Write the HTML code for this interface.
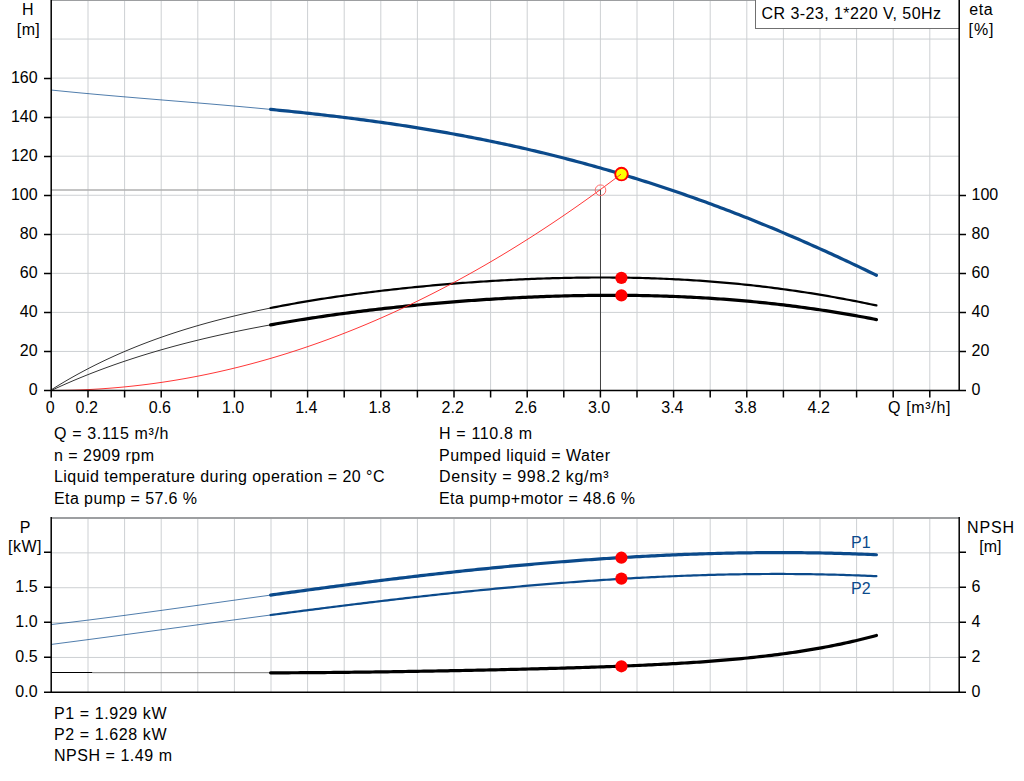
<!DOCTYPE html><html><head><meta charset="utf-8"><style>html,body{margin:0;padding:0;background:#fff;width:1024px;height:781px;overflow:hidden}svg{display:block}</style></head><body>
<svg width="1024" height="781" viewBox="0 0 1024 781" font-family="Liberation Sans, sans-serif" font-size="16" fill="#000">
<path d="M88.00,0 V390 M124.60,0 V390 M161.20,0 V390 M197.80,0 V390 M234.40,0 V390 M271.00,0 V390 M307.60,0 V390 M344.20,0 V390 M380.80,0 V390 M417.40,0 V390 M454.00,0 V390 M490.60,0 V390 M527.20,0 V390 M563.80,0 V390 M600.40,0 V390 M637.00,0 V390 M673.60,0 V390 M710.20,0 V390 M746.80,0 V390 M783.40,0 V390 M820.00,0 V390 M856.60,0 V390 M893.20,0 V390 M929.80,0 V390 M51,351.45 H959 M51,312.40 H959 M51,273.35 H959 M51,234.30 H959 M51,195.25 H959 M51,156.20 H959 M51,117.15 H959 M51,78.10 H959 M51,39.05 H959 " stroke="#cdd0d3" stroke-width="1" fill="none"/>
<path d="M88.00,517 V692 M124.60,517 V692 M161.20,517 V692 M197.80,517 V692 M234.40,517 V692 M271.00,517 V692 M307.60,517 V692 M344.20,517 V692 M380.80,517 V692 M417.40,517 V692 M454.00,517 V692 M490.60,517 V692 M527.20,517 V692 M563.80,517 V692 M600.40,517 V692 M637.00,517 V692 M673.60,517 V692 M710.20,517 V692 M746.80,517 V692 M783.40,517 V692 M820.00,517 V692 M856.60,517 V692 M893.20,517 V692 M929.80,517 V692 M51,657.44 H959 M51,622.58 H959 M51,587.72 H959 M51,552.86 H959 " stroke="#cdd0d3" stroke-width="1" fill="none"/>
<path d="M51,0.5 H959" stroke="#9d9fa1" stroke-width="1"/>
<path d="M51,518 H959" stroke="#9d9fa1" stroke-width="2"/>
<rect x="755.5" y="-1" width="204" height="29.5" fill="#fff" stroke="#707070" stroke-width="1"/>
<text x="761.5" y="19" textLength="179.5" lengthAdjust="spacing">CR 3-23, 1*220 V, 50Hz</text>
<path d="M51,190 H600" stroke="#b0b0b0" stroke-width="1.6"/>
<path d="M600.5,190 V390" stroke="#444" stroke-width="1"/>
<path d="M51.00,90.01 L54.00,90.32 L57.00,90.63 L60.00,90.93 L63.00,91.23 L66.00,91.53 L69.00,91.82 L72.00,92.12 L75.00,92.40 L78.00,92.69 L81.00,92.97 L84.00,93.26 L87.00,93.53 L90.00,93.81 L93.00,94.08 L96.00,94.36 L99.00,94.63 L102.00,94.89 L105.00,95.16 L108.00,95.42 L111.00,95.69 L114.00,95.95 L117.00,96.21 L120.00,96.46 L123.00,96.72 L126.00,96.98 L129.00,97.23 L132.00,97.48 L135.00,97.73 L138.00,97.99 L141.00,98.24 L144.00,98.48 L147.00,98.73 L150.00,98.98 L153.00,99.23 L156.00,99.48 L159.00,99.72 L162.00,99.97 L165.00,100.22 L168.00,100.46 L171.00,100.71 L174.00,100.96 L177.00,101.20 L180.00,101.45 L183.00,101.70 L186.00,101.95 L189.00,102.19 L192.00,102.44 L195.00,102.69 L198.00,102.94 L201.00,103.19 L204.00,103.45 L207.00,103.70 L210.00,103.95 L213.00,104.21 L216.00,104.46 L219.00,104.72 L222.00,104.98 L225.00,105.24 L228.00,105.50 L231.00,105.76 L234.00,106.03 L237.00,106.30 L240.00,106.56 L243.00,106.83 L246.00,107.11 L249.00,107.38 L252.00,107.66 L255.00,107.93 L258.00,108.21 L261.00,108.50 L264.00,108.78 L267.00,109.07 L270.00,109.36 L270.60,109.41" stroke="#0b4a8b" stroke-width="0.9" stroke-opacity="0.8" fill="none"/>
<path d="M270.60,109.41 L273.60,109.71 L276.60,110.00 L279.60,110.30 L282.60,110.60 L285.60,110.90 L288.60,111.21 L291.60,111.52 L294.60,111.83 L297.60,112.14 L300.60,112.46 L303.60,112.78 L306.60,113.11 L309.60,113.43 L312.60,113.76 L315.60,114.10 L318.60,114.44 L321.60,114.78 L324.60,115.12 L327.60,115.47 L330.60,115.82 L333.60,116.18 L336.60,116.53 L339.60,116.90 L342.60,117.26 L345.60,117.64 L348.60,118.01 L351.60,118.39 L354.60,118.77 L357.60,119.16 L360.60,119.55 L363.60,119.94 L366.60,120.34 L369.60,120.75 L372.60,121.16 L375.60,121.57 L378.60,121.99 L381.60,122.41 L384.60,122.83 L387.60,123.27 L390.60,123.70 L393.60,124.14 L396.60,124.59 L399.60,125.04 L402.60,125.49 L405.60,125.95 L408.60,126.42 L411.60,126.89 L414.60,127.36 L417.60,127.84 L420.60,128.32 L423.60,128.81 L426.60,129.31 L429.60,129.81 L432.60,130.32 L435.60,130.83 L438.60,131.34 L441.60,131.86 L444.60,132.39 L447.60,132.92 L450.60,133.46 L453.60,134.01 L456.60,134.56 L459.60,135.11 L462.60,135.67 L465.60,136.24 L468.60,136.81 L471.60,137.39 L474.60,137.97 L477.60,138.56 L480.60,139.15 L483.60,139.75 L486.60,140.36 L489.60,140.97 L492.60,141.59 L495.60,142.22 L498.60,142.85 L501.60,143.49 L504.60,144.13 L507.60,144.78 L510.60,145.43 L513.60,146.09 L516.60,146.76 L519.60,147.43 L522.60,148.11 L525.60,148.80 L528.60,149.49 L531.60,150.19 L534.60,150.90 L537.60,151.61 L540.60,152.33 L543.60,153.05 L546.60,153.78 L549.60,154.52 L552.60,155.26 L555.60,156.01 L558.60,156.77 L561.60,157.53 L564.60,158.30 L567.60,159.08 L570.60,159.86 L573.60,160.65 L576.60,161.45 L579.60,162.25 L582.60,163.06 L585.60,163.88 L588.60,164.70 L591.60,165.53 L594.60,166.37 L597.60,167.21 L600.60,168.06 L603.60,168.92 L606.60,169.78 L609.60,170.65 L612.60,171.53 L615.60,172.41 L618.60,173.30 L621.60,174.20 L624.60,175.10 L627.60,176.01 L630.60,176.93 L633.60,177.86 L636.60,178.79 L639.60,179.73 L642.60,180.67 L645.60,181.62 L648.60,182.58 L651.60,183.55 L654.60,184.52 L657.60,185.50 L660.60,186.49 L663.60,187.48 L666.60,188.48 L669.60,189.49 L672.60,190.51 L675.60,191.53 L678.60,192.56 L681.60,193.59 L684.60,194.63 L687.60,195.68 L690.60,196.74 L693.60,197.80 L696.60,198.87 L699.60,199.95 L702.60,201.03 L705.60,202.12 L708.60,203.22 L711.60,204.32 L714.60,205.43 L717.60,206.55 L720.60,207.68 L723.60,208.81 L726.60,209.95 L729.60,211.09 L732.60,212.25 L735.60,213.41 L738.60,214.57 L741.60,215.75 L744.60,216.93 L747.60,218.11 L750.60,219.31 L753.60,220.51 L756.60,221.71 L759.60,222.93 L762.60,224.15 L765.60,225.38 L768.60,226.61 L771.60,227.85 L774.60,229.10 L777.60,230.35 L780.60,231.61 L783.60,232.88 L786.60,234.16 L789.60,235.44 L792.60,236.72 L795.60,238.02 L798.60,239.32 L801.60,240.63 L804.60,241.94 L807.60,243.26 L810.60,244.59 L813.60,245.92 L816.60,247.26 L819.60,248.60 L822.60,249.96 L825.60,251.32 L828.60,252.68 L831.60,254.05 L834.60,255.43 L837.60,256.82 L840.60,258.21 L843.60,259.60 L846.60,261.01 L849.60,262.41 L852.60,263.83 L855.60,265.25 L858.60,266.68 L861.60,268.11 L864.60,269.55 L867.60,271.00 L870.60,272.45 L873.60,273.91 L876.40,275.27" stroke="#0b4a8b" stroke-width="3.2" fill="none" stroke-linecap="round"/>
<path d="M51.00,389.98 L54.00,388.10 L57.00,386.25 L60.00,384.42 L63.00,382.63 L66.00,380.86 L69.00,379.12 L72.00,377.41 L75.00,375.72 L78.00,374.07 L81.00,372.44 L84.00,370.83 L87.00,369.25 L90.00,367.70 L93.00,366.17 L96.00,364.67 L99.00,363.19 L102.00,361.73 L105.00,360.29 L108.00,358.88 L111.00,357.50 L114.00,356.13 L117.00,354.79 L120.00,353.46 L123.00,352.16 L126.00,350.88 L129.00,349.62 L132.00,348.38 L135.00,347.16 L138.00,345.96 L141.00,344.78 L144.00,343.61 L147.00,342.47 L150.00,341.34 L153.00,340.24 L156.00,339.14 L159.00,338.07 L162.00,337.01 L165.00,335.97 L168.00,334.95 L171.00,333.94 L174.00,332.95 L177.00,331.97 L180.00,331.01 L183.00,330.07 L186.00,329.14 L189.00,328.22 L192.00,327.32 L195.00,326.43 L198.00,325.56 L201.00,324.69 L204.00,323.85 L207.00,323.01 L210.00,322.19 L213.00,321.38 L216.00,320.58 L219.00,319.80 L222.00,319.03 L225.00,318.27 L228.00,317.52 L231.00,316.78 L234.00,316.05 L237.00,315.34 L240.00,314.63 L243.00,313.94 L246.00,313.25 L249.00,312.58 L252.00,311.91 L255.00,311.26 L258.00,310.62 L261.00,309.98 L264.00,309.36 L267.00,308.74 L270.00,308.13 L270.60,308.01" stroke="#333" stroke-width="1" fill="none"/>
<path d="M270.60,308.01 L273.60,307.41 L276.60,306.83 L279.60,306.25 L282.60,305.68 L285.60,305.11 L288.60,304.56 L291.60,304.01 L294.60,303.47 L297.60,302.94 L300.60,302.42 L303.60,301.90 L306.60,301.39 L309.60,300.89 L312.60,300.39 L315.60,299.91 L318.60,299.43 L321.60,298.95 L324.60,298.49 L327.60,298.02 L330.60,297.57 L333.60,297.12 L336.60,296.68 L339.60,296.25 L342.60,295.82 L345.60,295.39 L348.60,294.98 L351.60,294.56 L354.60,294.16 L357.60,293.76 L360.60,293.37 L363.60,292.98 L366.60,292.59 L369.60,292.22 L372.60,291.84 L375.60,291.48 L378.60,291.11 L381.60,290.76 L384.60,290.41 L387.60,290.06 L390.60,289.72 L393.60,289.38 L396.60,289.05 L399.60,288.73 L402.60,288.41 L405.60,288.09 L408.60,287.78 L411.60,287.47 L414.60,287.17 L417.60,286.87 L420.60,286.58 L423.60,286.29 L426.60,286.01 L429.60,285.73 L432.60,285.45 L435.60,285.18 L438.60,284.92 L441.60,284.66 L444.60,284.40 L447.60,284.15 L450.60,283.90 L453.60,283.66 L456.60,283.42 L459.60,283.19 L462.60,282.96 L465.60,282.74 L468.60,282.52 L471.60,282.30 L474.60,282.09 L477.60,281.88 L480.60,281.68 L483.60,281.48 L486.60,281.29 L489.60,281.10 L492.60,280.92 L495.60,280.74 L498.60,280.56 L501.60,280.39 L504.60,280.23 L507.60,280.07 L510.60,279.91 L513.60,279.76 L516.60,279.61 L519.60,279.47 L522.60,279.33 L525.60,279.20 L528.60,279.07 L531.60,278.95 L534.60,278.83 L537.60,278.71 L540.60,278.60 L543.60,278.50 L546.60,278.40 L549.60,278.31 L552.60,278.22 L555.60,278.13 L558.60,278.05 L561.60,277.98 L564.60,277.91 L567.60,277.84 L570.60,277.79 L573.60,277.73 L576.60,277.68 L579.60,277.64 L582.60,277.60 L585.60,277.57 L588.60,277.54 L591.60,277.52 L594.60,277.51 L597.60,277.49 L600.60,277.49 L603.60,277.49 L606.60,277.50 L609.60,277.51 L612.60,277.53 L615.60,277.55 L618.60,277.58 L621.60,277.61 L624.60,277.65 L627.60,277.70 L630.60,277.75 L633.60,277.81 L636.60,277.88 L639.60,277.95 L642.60,278.02 L645.60,278.11 L648.60,278.20 L651.60,278.29 L654.60,278.39 L657.60,278.50 L660.60,278.61 L663.60,278.74 L666.60,278.86 L669.60,279.00 L672.60,279.14 L675.60,279.28 L678.60,279.44 L681.60,279.60 L684.60,279.76 L687.60,279.94 L690.60,280.12 L693.60,280.30 L696.60,280.50 L699.60,280.70 L702.60,280.91 L705.60,281.12 L708.60,281.34 L711.60,281.57 L714.60,281.81 L717.60,282.05 L720.60,282.30 L723.60,282.56 L726.60,282.82 L729.60,283.09 L732.60,283.37 L735.60,283.66 L738.60,283.95 L741.60,284.25 L744.60,284.56 L747.60,284.87 L750.60,285.19 L753.60,285.52 L756.60,285.86 L759.60,286.20 L762.60,286.56 L765.60,286.91 L768.60,287.28 L771.60,287.66 L774.60,288.04 L777.60,288.43 L780.60,288.82 L783.60,289.23 L786.60,289.64 L789.60,290.06 L792.60,290.49 L795.60,290.92 L798.60,291.36 L801.60,291.81 L804.60,292.27 L807.60,292.73 L810.60,293.21 L813.60,293.69 L816.60,294.17 L819.60,294.67 L822.60,295.17 L825.60,295.68 L828.60,296.20 L831.60,296.72 L834.60,297.26 L837.60,297.80 L840.60,298.34 L843.60,298.90 L846.60,299.46 L849.60,300.03 L852.60,300.61 L855.60,301.19 L858.60,301.78 L861.60,302.38 L864.60,302.99 L867.60,303.60 L870.60,304.22 L873.60,304.85 L876.40,305.44" stroke="#000" stroke-width="2.2" fill="none" stroke-linecap="round"/>
<path d="M51.00,390.62 L54.00,389.22 L57.00,387.84 L60.00,386.47 L63.00,385.13 L66.00,383.80 L69.00,382.50 L72.00,381.21 L75.00,379.93 L78.00,378.68 L81.00,377.44 L84.00,376.22 L87.00,375.01 L90.00,373.83 L93.00,372.65 L96.00,371.50 L99.00,370.35 L102.00,369.23 L105.00,368.12 L108.00,367.02 L111.00,365.94 L114.00,364.87 L117.00,363.82 L120.00,362.78 L123.00,361.76 L126.00,360.75 L129.00,359.75 L132.00,358.77 L135.00,357.80 L138.00,356.84 L141.00,355.89 L144.00,354.96 L147.00,354.04 L150.00,353.13 L153.00,352.24 L156.00,351.35 L159.00,350.48 L162.00,349.62 L165.00,348.77 L168.00,347.93 L171.00,347.10 L174.00,346.28 L177.00,345.48 L180.00,344.68 L183.00,343.89 L186.00,343.12 L189.00,342.35 L192.00,341.60 L195.00,340.85 L198.00,340.11 L201.00,339.39 L204.00,338.67 L207.00,337.96 L210.00,337.26 L213.00,336.57 L216.00,335.89 L219.00,335.21 L222.00,334.55 L225.00,333.89 L228.00,333.24 L231.00,332.60 L234.00,331.97 L237.00,331.35 L240.00,330.73 L243.00,330.12 L246.00,329.52 L249.00,328.92 L252.00,328.34 L255.00,327.76 L258.00,327.19 L261.00,326.62 L264.00,326.06 L267.00,325.51 L270.00,324.97 L270.60,324.86" stroke="#333" stroke-width="1" fill="none"/>
<path d="M270.60,324.86 L273.60,324.32 L276.60,323.79 L279.60,323.27 L282.60,322.75 L285.60,322.24 L288.60,321.73 L291.60,321.24 L294.60,320.74 L297.60,320.26 L300.60,319.78 L303.60,319.30 L306.60,318.83 L309.60,318.37 L312.60,317.91 L315.60,317.46 L318.60,317.01 L321.60,316.57 L324.60,316.13 L327.60,315.70 L330.60,315.28 L333.60,314.86 L336.60,314.44 L339.60,314.03 L342.60,313.63 L345.60,313.23 L348.60,312.83 L351.60,312.44 L354.60,312.06 L357.60,311.68 L360.60,311.30 L363.60,310.93 L366.60,310.56 L369.60,310.20 L372.60,309.84 L375.60,309.49 L378.60,309.14 L381.60,308.80 L384.60,308.46 L387.60,308.13 L390.60,307.80 L393.60,307.47 L396.60,307.15 L399.60,306.83 L402.60,306.52 L405.60,306.21 L408.60,305.91 L411.60,305.61 L414.60,305.31 L417.60,305.02 L420.60,304.73 L423.60,304.45 L426.60,304.17 L429.60,303.90 L432.60,303.63 L435.60,303.36 L438.60,303.10 L441.60,302.84 L444.60,302.59 L447.60,302.34 L450.60,302.09 L453.60,301.85 L456.60,301.62 L459.60,301.38 L462.60,301.15 L465.60,300.93 L468.60,300.71 L471.60,300.49 L474.60,300.28 L477.60,300.07 L480.60,299.87 L483.60,299.67 L486.60,299.47 L489.60,299.28 L492.60,299.10 L495.60,298.91 L498.60,298.73 L501.60,298.56 L504.60,298.39 L507.60,298.22 L510.60,298.06 L513.60,297.91 L516.60,297.75 L519.60,297.60 L522.60,297.46 L525.60,297.32 L528.60,297.19 L531.60,297.05 L534.60,296.93 L537.60,296.81 L540.60,296.69 L543.60,296.58 L546.60,296.47 L549.60,296.36 L552.60,296.26 L555.60,296.17 L558.60,296.08 L561.60,295.99 L564.60,295.91 L567.60,295.84 L570.60,295.77 L573.60,295.70 L576.60,295.64 L579.60,295.58 L582.60,295.53 L585.60,295.48 L588.60,295.44 L591.60,295.40 L594.60,295.37 L597.60,295.34 L600.60,295.32 L603.60,295.30 L606.60,295.29 L609.60,295.28 L612.60,295.28 L615.60,295.29 L618.60,295.30 L621.60,295.31 L624.60,295.33 L627.60,295.35 L630.60,295.38 L633.60,295.42 L636.60,295.46 L639.60,295.51 L642.60,295.56 L645.60,295.62 L648.60,295.68 L651.60,295.75 L654.60,295.82 L657.60,295.91 L660.60,295.99 L663.60,296.08 L666.60,296.18 L669.60,296.29 L672.60,296.40 L675.60,296.51 L678.60,296.63 L681.60,296.76 L684.60,296.89 L687.60,297.03 L690.60,297.18 L693.60,297.33 L696.60,297.49 L699.60,297.66 L702.60,297.83 L705.60,298.00 L708.60,298.19 L711.60,298.38 L714.60,298.57 L717.60,298.78 L720.60,298.99 L723.60,299.20 L726.60,299.42 L729.60,299.65 L732.60,299.89 L735.60,300.13 L738.60,300.38 L741.60,300.64 L744.60,300.90 L747.60,301.17 L750.60,301.45 L753.60,301.73 L756.60,302.02 L759.60,302.32 L762.60,302.62 L765.60,302.93 L768.60,303.25 L771.60,303.58 L774.60,303.91 L777.60,304.25 L780.60,304.59 L783.60,304.95 L786.60,305.31 L789.60,305.68 L792.60,306.05 L795.60,306.44 L798.60,306.83 L801.60,307.22 L804.60,307.63 L807.60,308.04 L810.60,308.46 L813.60,308.89 L816.60,309.32 L819.60,309.76 L822.60,310.21 L825.60,310.67 L828.60,311.13 L831.60,311.61 L834.60,312.09 L837.60,312.57 L840.60,313.07 L843.60,313.57 L846.60,314.08 L849.60,314.60 L852.60,315.13 L855.60,315.66 L858.60,316.20 L861.60,316.75 L864.60,317.30 L867.60,317.87 L870.60,318.44 L873.60,319.02 L876.40,319.57" stroke="#000" stroke-width="3.2" fill="none" stroke-linecap="round"/>
<circle cx="621.5" cy="174.1" r="6.3" fill="#ffff00" stroke="#ff0000" stroke-width="1.9"/>
<path d="M51.00,390.50 L54.00,390.49 L57.00,390.48 L60.00,390.45 L63.00,390.40 L66.00,390.35 L69.00,390.28 L72.00,390.21 L75.00,390.12 L78.00,390.01 L81.00,389.90 L84.00,389.77 L87.00,389.64 L90.00,389.49 L93.00,389.33 L96.00,389.15 L99.00,388.97 L102.00,388.77 L105.00,388.56 L108.00,388.34 L111.00,388.10 L114.00,387.86 L117.00,387.60 L120.00,387.33 L123.00,387.05 L126.00,386.76 L129.00,386.45 L132.00,386.13 L135.00,385.80 L138.00,385.46 L141.00,385.11 L144.00,384.74 L147.00,384.36 L150.00,383.97 L153.00,383.57 L156.00,383.16 L159.00,382.73 L162.00,382.30 L165.00,381.85 L168.00,381.39 L171.00,380.91 L174.00,380.43 L177.00,379.93 L180.00,379.42 L183.00,378.90 L186.00,378.37 L189.00,377.82 L192.00,377.26 L195.00,376.69 L198.00,376.11 L201.00,375.52 L204.00,374.92 L207.00,374.30 L210.00,373.67 L213.00,373.03 L216.00,372.37 L219.00,371.71 L222.00,371.03 L225.00,370.34 L228.00,369.64 L231.00,368.93 L234.00,368.20 L237.00,367.47 L240.00,366.72 L243.00,365.96 L246.00,365.18 L249.00,364.40 L252.00,363.60 L255.00,362.79 L258.00,361.97 L261.00,361.14 L264.00,360.30 L267.00,359.44 L270.00,358.57 L273.00,357.69 L276.00,356.80 L279.00,355.89 L282.00,354.97 L285.00,354.05 L288.00,353.11 L291.00,352.15 L294.00,351.19 L297.00,350.21 L300.00,349.22 L303.00,348.22 L306.00,347.21 L309.00,346.18 L312.00,345.15 L315.00,344.10 L318.00,343.04 L321.00,341.97 L324.00,340.88 L327.00,339.79 L330.00,338.68 L333.00,337.56 L336.00,336.42 L339.00,335.28 L342.00,334.12 L345.00,332.96 L348.00,331.77 L351.00,330.58 L354.00,329.38 L357.00,328.16 L360.00,326.93 L363.00,325.69 L366.00,324.44 L369.00,323.18 L372.00,321.90 L375.00,320.61 L378.00,319.31 L381.00,318.00 L384.00,316.68 L387.00,315.34 L390.00,313.99 L393.00,312.63 L396.00,311.26 L399.00,309.87 L402.00,308.48 L405.00,307.07 L408.00,305.65 L411.00,304.22 L414.00,302.77 L417.00,301.32 L420.00,299.85 L423.00,298.37 L426.00,296.88 L429.00,295.37 L432.00,293.86 L435.00,292.33 L438.00,290.79 L441.00,289.24 L444.00,287.68 L447.00,286.10 L450.00,284.51 L453.00,282.91 L456.00,281.30 L459.00,279.68 L462.00,278.04 L465.00,276.39 L468.00,274.73 L471.00,273.06 L474.00,271.38 L477.00,269.68 L480.00,267.97 L483.00,266.25 L486.00,264.52 L489.00,262.78 L492.00,261.02 L495.00,259.26 L498.00,257.48 L501.00,255.69 L504.00,253.88 L507.00,252.07 L510.00,250.24 L513.00,248.40 L516.00,246.55 L519.00,244.68 L522.00,242.81 L525.00,240.92 L528.00,239.02 L531.00,237.11 L534.00,235.19 L537.00,233.25 L540.00,231.30 L543.00,229.35 L546.00,227.37 L549.00,225.39 L552.00,223.40 L555.00,221.39 L558.00,219.37 L561.00,217.34 L564.00,215.29 L567.00,213.24 L570.00,211.17 L573.00,209.09 L576.00,207.00 L579.00,204.90 L582.00,202.78 L585.00,200.66 L588.00,198.52 L591.00,196.37 L594.00,194.20 L597.00,192.03 L600.00,189.84 L603.00,187.64 L606.00,185.43 L609.00,183.21 L612.00,180.97 L615.00,178.73 L618.00,176.47 L621.00,174.20" stroke="#ff2020" stroke-width="0.9" fill="none"/>
<circle cx="600.5" cy="190.2" r="5.3" fill="none" stroke="#ff6a6a" stroke-width="1"/>
<circle cx="621.4" cy="277.9" r="6.1" fill="#ff0000"/>
<circle cx="621.4" cy="295.4" r="6.1" fill="#ff0000"/>
<path d="M51.2,0 V397.5 M44,390.5 H960 M959.2,0 V391 M44,390.5 H51 M44,351.5 H51 M44,312.5 H51 M44,273.5 H51 M44,234.5 H51 M44,195.5 H51 M44,156.5 H51 M44,117.5 H51 M44,78.5 H51 M959,390.5 H966 M959,351.5 H966 M959,312.5 H966 M959,273.5 H966 M959,234.5 H966 M959,195.5 H966 M88.00,390 V397.5 M124.60,390 V397.5 M161.20,390 V397.5 M197.80,390 V397.5 M234.40,390 V397.5 M271.00,390 V397.5 M307.60,390 V397.5 M344.20,390 V397.5 M380.80,390 V397.5 M417.40,390 V397.5 M454.00,390 V397.5 M490.60,390 V397.5 M527.20,390 V397.5 M563.80,390 V397.5 M600.40,390 V397.5 M637.00,390 V397.5 M673.60,390 V397.5 M710.20,390 V397.5 M746.80,390 V397.5 M783.40,390 V397.5 M820.00,390 V397.5 M856.60,390 V397.5 M893.20,390 V397.5 M929.80,390 V397.5 " stroke="#000" stroke-width="1.5" fill="none"/>
<path d="M51.00,624.55 L54.00,624.20 L57.00,623.85 L60.00,623.50 L63.00,623.15 L66.00,622.80 L69.00,622.44 L72.00,622.08 L75.00,621.71 L78.00,621.35 L81.00,620.98 L84.00,620.61 L87.00,620.23 L90.00,619.86 L93.00,619.48 L96.00,619.10 L99.00,618.71 L102.00,618.33 L105.00,617.94 L108.00,617.55 L111.00,617.16 L114.00,616.77 L117.00,616.38 L120.00,615.98 L123.00,615.58 L126.00,615.19 L129.00,614.78 L132.00,614.38 L135.00,613.98 L138.00,613.57 L141.00,613.17 L144.00,612.76 L147.00,612.35 L150.00,611.94 L153.00,611.53 L156.00,611.12 L159.00,610.71 L162.00,610.30 L165.00,609.88 L168.00,609.47 L171.00,609.05 L174.00,608.63 L177.00,608.22 L180.00,607.80 L183.00,607.38 L186.00,606.96 L189.00,606.54 L192.00,606.12 L195.00,605.70 L198.00,605.28 L201.00,604.86 L204.00,604.44 L207.00,604.01 L210.00,603.59 L213.00,603.17 L216.00,602.75 L219.00,602.33 L222.00,601.90 L225.00,601.48 L228.00,601.06 L231.00,600.64 L234.00,600.22 L237.00,599.80 L240.00,599.37 L243.00,598.95 L246.00,598.53 L249.00,598.11 L252.00,597.69 L255.00,597.27 L258.00,596.85 L261.00,596.43 L264.00,596.02 L267.00,595.60 L270.00,595.18 L270.60,595.10" stroke="#0b4a8b" stroke-width="0.9" stroke-opacity="0.8" fill="none"/>
<path d="M270.60,595.10 L273.60,594.68 L276.60,594.27 L279.60,593.85 L282.60,593.44 L285.60,593.03 L288.60,592.61 L291.60,592.20 L294.60,591.79 L297.60,591.38 L300.60,590.97 L303.60,590.56 L306.60,590.16 L309.60,589.75 L312.60,589.35 L315.60,588.94 L318.60,588.54 L321.60,588.14 L324.60,587.74 L327.60,587.34 L330.60,586.94 L333.60,586.55 L336.60,586.15 L339.60,585.76 L342.60,585.36 L345.60,584.97 L348.60,584.58 L351.60,584.19 L354.60,583.81 L357.60,583.42 L360.60,583.04 L363.60,582.65 L366.60,582.27 L369.60,581.89 L372.60,581.52 L375.60,581.14 L378.60,580.76 L381.60,580.39 L384.60,580.02 L387.60,579.65 L390.60,579.28 L393.60,578.92 L396.60,578.55 L399.60,578.19 L402.60,577.83 L405.60,577.47 L408.60,577.11 L411.60,576.76 L414.60,576.40 L417.60,576.05 L420.60,575.70 L423.60,575.36 L426.60,575.01 L429.60,574.67 L432.60,574.32 L435.60,573.98 L438.60,573.65 L441.60,573.31 L444.60,572.98 L447.60,572.65 L450.60,572.32 L453.60,571.99 L456.60,571.67 L459.60,571.34 L462.60,571.02 L465.60,570.70 L468.60,570.39 L471.60,570.07 L474.60,569.76 L477.60,569.45 L480.60,569.15 L483.60,568.84 L486.60,568.54 L489.60,568.24 L492.60,567.94 L495.60,567.65 L498.60,567.35 L501.60,567.06 L504.60,566.77 L507.60,566.49 L510.60,566.21 L513.60,565.92 L516.60,565.65 L519.60,565.37 L522.60,565.10 L525.60,564.83 L528.60,564.56 L531.60,564.29 L534.60,564.03 L537.60,563.77 L540.60,563.51 L543.60,563.26 L546.60,563.00 L549.60,562.75 L552.60,562.51 L555.60,562.26 L558.60,562.02 L561.60,561.78 L564.60,561.54 L567.60,561.31 L570.60,561.08 L573.60,560.85 L576.60,560.62 L579.60,560.40 L582.60,560.18 L585.60,559.96 L588.60,559.75 L591.60,559.54 L594.60,559.33 L597.60,559.12 L600.60,558.92 L603.60,558.72 L606.60,558.52 L609.60,558.33 L612.60,558.14 L615.60,557.95 L618.60,557.77 L621.60,557.58 L624.60,557.40 L627.60,557.23 L630.60,557.06 L633.60,556.89 L636.60,556.72 L639.60,556.55 L642.60,556.39 L645.60,556.24 L648.60,556.08 L651.60,555.93 L654.60,555.78 L657.60,555.64 L660.60,555.49 L663.60,555.35 L666.60,555.22 L669.60,555.09 L672.60,554.96 L675.60,554.83 L678.60,554.71 L681.60,554.59 L684.60,554.47 L687.60,554.36 L690.60,554.25 L693.60,554.15 L696.60,554.04 L699.60,553.94 L702.60,553.85 L705.60,553.75 L708.60,553.67 L711.60,553.58 L714.60,553.50 L717.60,553.42 L720.60,553.34 L723.60,553.27 L726.60,553.20 L729.60,553.14 L732.60,553.08 L735.60,553.02 L738.60,552.97 L741.60,552.92 L744.60,552.87 L747.60,552.83 L750.60,552.79 L753.60,552.76 L756.60,552.72 L759.60,552.70 L762.60,552.67 L765.60,552.65 L768.60,552.64 L771.60,552.62 L774.60,552.61 L777.60,552.61 L780.60,552.61 L783.60,552.61 L786.60,552.62 L789.60,552.63 L792.60,552.64 L795.60,552.66 L798.60,552.69 L801.60,552.71 L804.60,552.74 L807.60,552.78 L810.60,552.82 L813.60,552.86 L816.60,552.91 L819.60,552.96 L822.60,553.02 L825.60,553.08 L828.60,553.14 L831.60,553.21 L834.60,553.29 L837.60,553.36 L840.60,553.45 L843.60,553.53 L846.60,553.62 L849.60,553.72 L852.60,553.82 L855.60,553.92 L858.60,554.03 L861.60,554.15 L864.60,554.26 L867.60,554.39 L870.60,554.51 L873.60,554.65 L876.40,554.77" stroke="#0b4a8b" stroke-width="3.2" fill="none" stroke-linecap="round"/>
<path d="M51.00,644.46 L54.00,644.07 L57.00,643.68 L60.00,643.29 L63.00,642.90 L66.00,642.51 L69.00,642.12 L72.00,641.73 L75.00,641.33 L78.00,640.94 L81.00,640.54 L84.00,640.15 L87.00,639.75 L90.00,639.35 L93.00,638.96 L96.00,638.56 L99.00,638.16 L102.00,637.76 L105.00,637.36 L108.00,636.96 L111.00,636.55 L114.00,636.15 L117.00,635.75 L120.00,635.35 L123.00,634.94 L126.00,634.54 L129.00,634.13 L132.00,633.73 L135.00,633.32 L138.00,632.92 L141.00,632.51 L144.00,632.11 L147.00,631.70 L150.00,631.29 L153.00,630.89 L156.00,630.48 L159.00,630.07 L162.00,629.66 L165.00,629.26 L168.00,628.85 L171.00,628.44 L174.00,628.03 L177.00,627.63 L180.00,627.22 L183.00,626.81 L186.00,626.40 L189.00,626.00 L192.00,625.59 L195.00,625.18 L198.00,624.77 L201.00,624.37 L204.00,623.96 L207.00,623.55 L210.00,623.15 L213.00,622.74 L216.00,622.34 L219.00,621.93 L222.00,621.52 L225.00,621.12 L228.00,620.72 L231.00,620.31 L234.00,619.91 L237.00,619.50 L240.00,619.10 L243.00,618.70 L246.00,618.30 L249.00,617.90 L252.00,617.50 L255.00,617.10 L258.00,616.70 L261.00,616.30 L264.00,615.90 L267.00,615.50 L270.00,615.10 L270.60,615.03" stroke="#0b4a8b" stroke-width="0.9" stroke-opacity="0.8" fill="none"/>
<path d="M270.60,615.03 L273.60,614.63 L276.60,614.23 L279.60,613.84 L282.60,613.45 L285.60,613.05 L288.60,612.66 L291.60,612.27 L294.60,611.88 L297.60,611.49 L300.60,611.10 L303.60,610.71 L306.60,610.32 L309.60,609.94 L312.60,609.55 L315.60,609.17 L318.60,608.79 L321.60,608.40 L324.60,608.02 L327.60,607.64 L330.60,607.26 L333.60,606.89 L336.60,606.51 L339.60,606.14 L342.60,605.76 L345.60,605.39 L348.60,605.02 L351.60,604.65 L354.60,604.28 L357.60,603.91 L360.60,603.54 L363.60,603.18 L366.60,602.81 L369.60,602.45 L372.60,602.09 L375.60,601.73 L378.60,601.37 L381.60,601.01 L384.60,600.66 L387.60,600.30 L390.60,599.95 L393.60,599.60 L396.60,599.25 L399.60,598.90 L402.60,598.56 L405.60,598.21 L408.60,597.87 L411.60,597.53 L414.60,597.19 L417.60,596.85 L420.60,596.51 L423.60,596.18 L426.60,595.85 L429.60,595.51 L432.60,595.19 L435.60,594.86 L438.60,594.53 L441.60,594.21 L444.60,593.89 L447.60,593.57 L450.60,593.25 L453.60,592.93 L456.60,592.62 L459.60,592.30 L462.60,591.99 L465.60,591.68 L468.60,591.38 L471.60,591.07 L474.60,590.77 L477.60,590.47 L480.60,590.17 L483.60,589.87 L486.60,589.58 L489.60,589.29 L492.60,589.00 L495.60,588.71 L498.60,588.42 L501.60,588.14 L504.60,587.86 L507.60,587.58 L510.60,587.30 L513.60,587.03 L516.60,586.76 L519.60,586.49 L522.60,586.22 L525.60,585.95 L528.60,585.69 L531.60,585.43 L534.60,585.17 L537.60,584.92 L540.60,584.66 L543.60,584.41 L546.60,584.17 L549.60,583.92 L552.60,583.68 L555.60,583.44 L558.60,583.20 L561.60,582.96 L564.60,582.73 L567.60,582.50 L570.60,582.27 L573.60,582.05 L576.60,581.82 L579.60,581.60 L582.60,581.39 L585.60,581.17 L588.60,580.96 L591.60,580.75 L594.60,580.55 L597.60,580.34 L600.60,580.14 L603.60,579.95 L606.60,579.75 L609.60,579.56 L612.60,579.37 L615.60,579.18 L618.60,579.00 L621.60,578.82 L624.60,578.64 L627.60,578.47 L630.60,578.30 L633.60,578.13 L636.60,577.97 L639.60,577.80 L642.60,577.64 L645.60,577.49 L648.60,577.34 L651.60,577.19 L654.60,577.04 L657.60,576.90 L660.60,576.76 L663.60,576.62 L666.60,576.48 L669.60,576.35 L672.60,576.23 L675.60,576.10 L678.60,575.98 L681.60,575.86 L684.60,575.75 L687.60,575.64 L690.60,575.53 L693.60,575.43 L696.60,575.33 L699.60,575.23 L702.60,575.14 L705.60,575.05 L708.60,574.96 L711.60,574.87 L714.60,574.80 L717.60,574.72 L720.60,574.65 L723.60,574.58 L726.60,574.51 L729.60,574.45 L732.60,574.39 L735.60,574.34 L738.60,574.28 L741.60,574.24 L744.60,574.19 L747.60,574.15 L750.60,574.12 L753.60,574.08 L756.60,574.06 L759.60,574.03 L762.60,574.01 L765.60,573.99 L768.60,573.98 L771.60,573.97 L774.60,573.96 L777.60,573.96 L780.60,573.96 L783.60,573.97 L786.60,573.98 L789.60,573.99 L792.60,574.01 L795.60,574.03 L798.60,574.06 L801.60,574.09 L804.60,574.12 L807.60,574.16 L810.60,574.20 L813.60,574.25 L816.60,574.30 L819.60,574.35 L822.60,574.41 L825.60,574.48 L828.60,574.54 L831.60,574.62 L834.60,574.69 L837.60,574.77 L840.60,574.86 L843.60,574.94 L846.60,575.04 L849.60,575.13 L852.60,575.24 L855.60,575.34 L858.60,575.45 L861.60,575.57 L864.60,575.69 L867.60,575.81 L870.60,575.94 L873.60,576.07 L876.40,576.20" stroke="#0b4a8b" stroke-width="2.2" fill="none" stroke-linecap="round"/>
<path d="M51,672.5 H92.5" stroke="#000" stroke-width="1" fill="none"/>
<path d="M92.5,672.7 H271" stroke="#7a7a7a" stroke-width="1" fill="none"/>
<path d="M270.60,672.85 L273.60,672.84 L276.60,672.83 L279.60,672.82 L282.60,672.81 L285.60,672.79 L288.60,672.78 L291.60,672.76 L294.60,672.75 L297.60,672.73 L300.60,672.71 L303.60,672.69 L306.60,672.67 L309.60,672.65 L312.60,672.63 L315.60,672.60 L318.60,672.58 L321.60,672.56 L324.60,672.53 L327.60,672.50 L330.60,672.48 L333.60,672.45 L336.60,672.42 L339.60,672.39 L342.60,672.36 L345.60,672.32 L348.60,672.29 L351.60,672.26 L354.60,672.22 L357.60,672.19 L360.60,672.15 L363.60,672.11 L366.60,672.07 L369.60,672.04 L372.60,672.00 L375.60,671.96 L378.60,671.92 L381.60,671.87 L384.60,671.83 L387.60,671.79 L390.60,671.74 L393.60,671.70 L396.60,671.65 L399.60,671.61 L402.60,671.56 L405.60,671.51 L408.60,671.46 L411.60,671.42 L414.60,671.37 L417.60,671.32 L420.60,671.27 L423.60,671.21 L426.60,671.16 L429.60,671.11 L432.60,671.06 L435.60,671.00 L438.60,670.95 L441.60,670.89 L444.60,670.84 L447.60,670.78 L450.60,670.72 L453.60,670.67 L456.60,670.61 L459.60,670.55 L462.60,670.49 L465.60,670.43 L468.60,670.37 L471.60,670.31 L474.60,670.25 L477.60,670.18 L480.60,670.12 L483.60,670.06 L486.60,669.99 L489.60,669.93 L492.60,669.86 L495.60,669.80 L498.60,669.73 L501.60,669.66 L504.60,669.59 L507.60,669.52 L510.60,669.45 L513.60,669.38 L516.60,669.31 L519.60,669.24 L522.60,669.17 L525.60,669.09 L528.60,669.02 L531.60,668.94 L534.60,668.87 L537.60,668.79 L540.60,668.71 L543.60,668.64 L546.60,668.56 L549.60,668.47 L552.60,668.39 L555.60,668.31 L558.60,668.23 L561.60,668.14 L564.60,668.05 L567.60,667.97 L570.60,667.88 L573.60,667.79 L576.60,667.70 L579.60,667.60 L582.60,667.51 L585.60,667.41 L588.60,667.32 L591.60,667.22 L594.60,667.12 L597.60,667.02 L600.60,666.91 L603.60,666.81 L606.60,666.70 L609.60,666.59 L612.60,666.48 L615.60,666.36 L618.60,666.25 L621.60,666.13 L624.60,666.01 L627.60,665.89 L630.60,665.76 L633.60,665.64 L636.60,665.51 L639.60,665.37 L642.60,665.24 L645.60,665.10 L648.60,664.96 L651.60,664.82 L654.60,664.67 L657.60,664.52 L660.60,664.37 L663.60,664.21 L666.60,664.05 L669.60,663.89 L672.60,663.72 L675.60,663.55 L678.60,663.37 L681.60,663.19 L684.60,663.01 L687.60,662.82 L690.60,662.63 L693.60,662.43 L696.60,662.23 L699.60,662.03 L702.60,661.82 L705.60,661.60 L708.60,661.38 L711.60,661.16 L714.60,660.92 L717.60,660.69 L720.60,660.44 L723.60,660.20 L726.60,659.94 L729.60,659.68 L732.60,659.41 L735.60,659.14 L738.60,658.86 L741.60,658.57 L744.60,658.28 L747.60,657.98 L750.60,657.67 L753.60,657.36 L756.60,657.03 L759.60,656.70 L762.60,656.36 L765.60,656.02 L768.60,655.66 L771.60,655.30 L774.60,654.92 L777.60,654.54 L780.60,654.15 L783.60,653.75 L786.60,653.34 L789.60,652.92 L792.60,652.49 L795.60,652.05 L798.60,651.60 L801.60,651.14 L804.60,650.67 L807.60,650.18 L810.60,649.69 L813.60,649.18 L816.60,648.66 L819.60,648.13 L822.60,647.59 L825.60,647.03 L828.60,646.46 L831.60,645.88 L834.60,645.29 L837.60,644.68 L840.60,644.06 L843.60,643.42 L846.60,642.77 L849.60,642.10 L852.60,641.42 L855.60,640.72 L858.60,640.01 L861.60,639.28 L864.60,638.54 L867.60,637.78 L870.60,637.00 L873.60,636.20 L876.40,635.45" stroke="#000" stroke-width="3.2" fill="none" stroke-linecap="round"/>
<circle cx="621.4" cy="557.7" r="6.1" fill="#ff0000"/>
<circle cx="621.4" cy="578.6" r="6.1" fill="#ff0000"/>
<circle cx="621.4" cy="666.3" r="6.1" fill="#ff0000"/>
<path d="M51.2,517 V692.5 M44,692.3 H960 M959.2,517 V692.5 M44,692.3 H51 M959,692.3 H966 M44,657.3 H51 M959,657.3 H966 M44,622.3 H51 M959,622.3 H966 M44,587.3 H51 M959,587.3 H966 M44,552.3 H51 M959,552.3 H966 " stroke="#000" stroke-width="1.5" fill="none"/>
<text x="27.8" y="15" text-anchor="middle">H</text>
<text x="28.3" y="35" text-anchor="middle" textLength="23" lengthAdjust="spacing">[m]</text>
<text x="37.6" y="395.2" text-anchor="end">0</text>
<text x="37.6" y="356.2" text-anchor="end">20</text>
<text x="37.6" y="317.2" text-anchor="end">40</text>
<text x="37.6" y="278.2" text-anchor="end">60</text>
<text x="37.6" y="239.2" text-anchor="end">80</text>
<text x="37.6" y="200.2" text-anchor="end">100</text>
<text x="37.6" y="161.2" text-anchor="end">120</text>
<text x="37.6" y="122.2" text-anchor="end">140</text>
<text x="37.6" y="83.2" text-anchor="end">160</text>
<text x="981" y="15" text-anchor="middle" textLength="23.5" lengthAdjust="spacing">eta</text>
<text x="981" y="35" text-anchor="middle" textLength="25" lengthAdjust="spacing">[%]</text>
<text x="971.5" y="395.2">0</text>
<text x="971.5" y="356.2">20</text>
<text x="971.5" y="317.2">40</text>
<text x="971.5" y="278.2">60</text>
<text x="971.5" y="239.2">80</text>
<text x="971.5" y="200.2">100</text>
<text x="50.1" y="413" text-anchor="middle">0</text>
<text x="86.7" y="413" text-anchor="middle">0.2</text>
<text x="159.9" y="413" text-anchor="middle">0.6</text>
<text x="233.1" y="413" text-anchor="middle">1.0</text>
<text x="306.3" y="413" text-anchor="middle">1.4</text>
<text x="379.5" y="413" text-anchor="middle">1.8</text>
<text x="452.7" y="413" text-anchor="middle">2.2</text>
<text x="525.9" y="413" text-anchor="middle">2.6</text>
<text x="599.1" y="413" text-anchor="middle">3.0</text>
<text x="672.3" y="413" text-anchor="middle">3.4</text>
<text x="745.5" y="413" text-anchor="middle">3.8</text>
<text x="818.7" y="413" text-anchor="middle">4.2</text>
<text x="888" y="413" textLength="62.5" lengthAdjust="spacing">Q [m³/h]</text>
<text x="54" y="439.0" textLength="114.5" lengthAdjust="spacing">Q = 3.115 m³/h</text>
<text x="54" y="460.5" textLength="100" lengthAdjust="spacing">n = 2909 rpm</text>
<text x="54" y="482.0" textLength="330.5" lengthAdjust="spacing">Liquid temperature during operation = 20 °C</text>
<text x="54" y="503.5" textLength="143" lengthAdjust="spacing">Eta pump = 57.6 %</text>
<text x="439" y="439.0" textLength="93" lengthAdjust="spacing">H = 110.8 m</text>
<text x="439" y="460.5" textLength="171" lengthAdjust="spacing">Pumped liquid = Water</text>
<text x="439" y="482.0" textLength="169.5" lengthAdjust="spacing">Density = 998.2 kg/m³</text>
<text x="439" y="503.5" textLength="196" lengthAdjust="spacing">Eta pump+motor = 48.6 %</text>
<text x="25" y="532.6" text-anchor="middle">P</text>
<text x="24.8" y="551.5" text-anchor="middle" textLength="33.5" lengthAdjust="spacing">[kW]</text>
<text x="37.6" y="697.2" text-anchor="end">0.0</text>
<text x="37.6" y="662.2" text-anchor="end">0.5</text>
<text x="37.6" y="627.2" text-anchor="end">1.0</text>
<text x="37.6" y="592.2" text-anchor="end">1.5</text>
<text x="990.6" y="532.6" text-anchor="middle" textLength="47" lengthAdjust="spacing">NPSH</text>
<text x="990.3" y="551.5" text-anchor="middle">[m]</text>
<text x="971.5" y="697.2">0</text>
<text x="971.5" y="662.2">2</text>
<text x="971.5" y="627.2">4</text>
<text x="971.5" y="592.2">6</text>
<text x="851" y="547.5" fill="#0b4a8b">P1</text>
<text x="851" y="594.3" fill="#0b4a8b">P2</text>
<text x="54" y="719.0" textLength="112.5" lengthAdjust="spacing">P1 = 1.929 kW</text>
<text x="54" y="740.2" textLength="112.5" lengthAdjust="spacing">P2 = 1.628 kW</text>
<text x="54" y="761.4" textLength="118" lengthAdjust="spacing">NPSH = 1.49 m</text>
</svg></body></html>
